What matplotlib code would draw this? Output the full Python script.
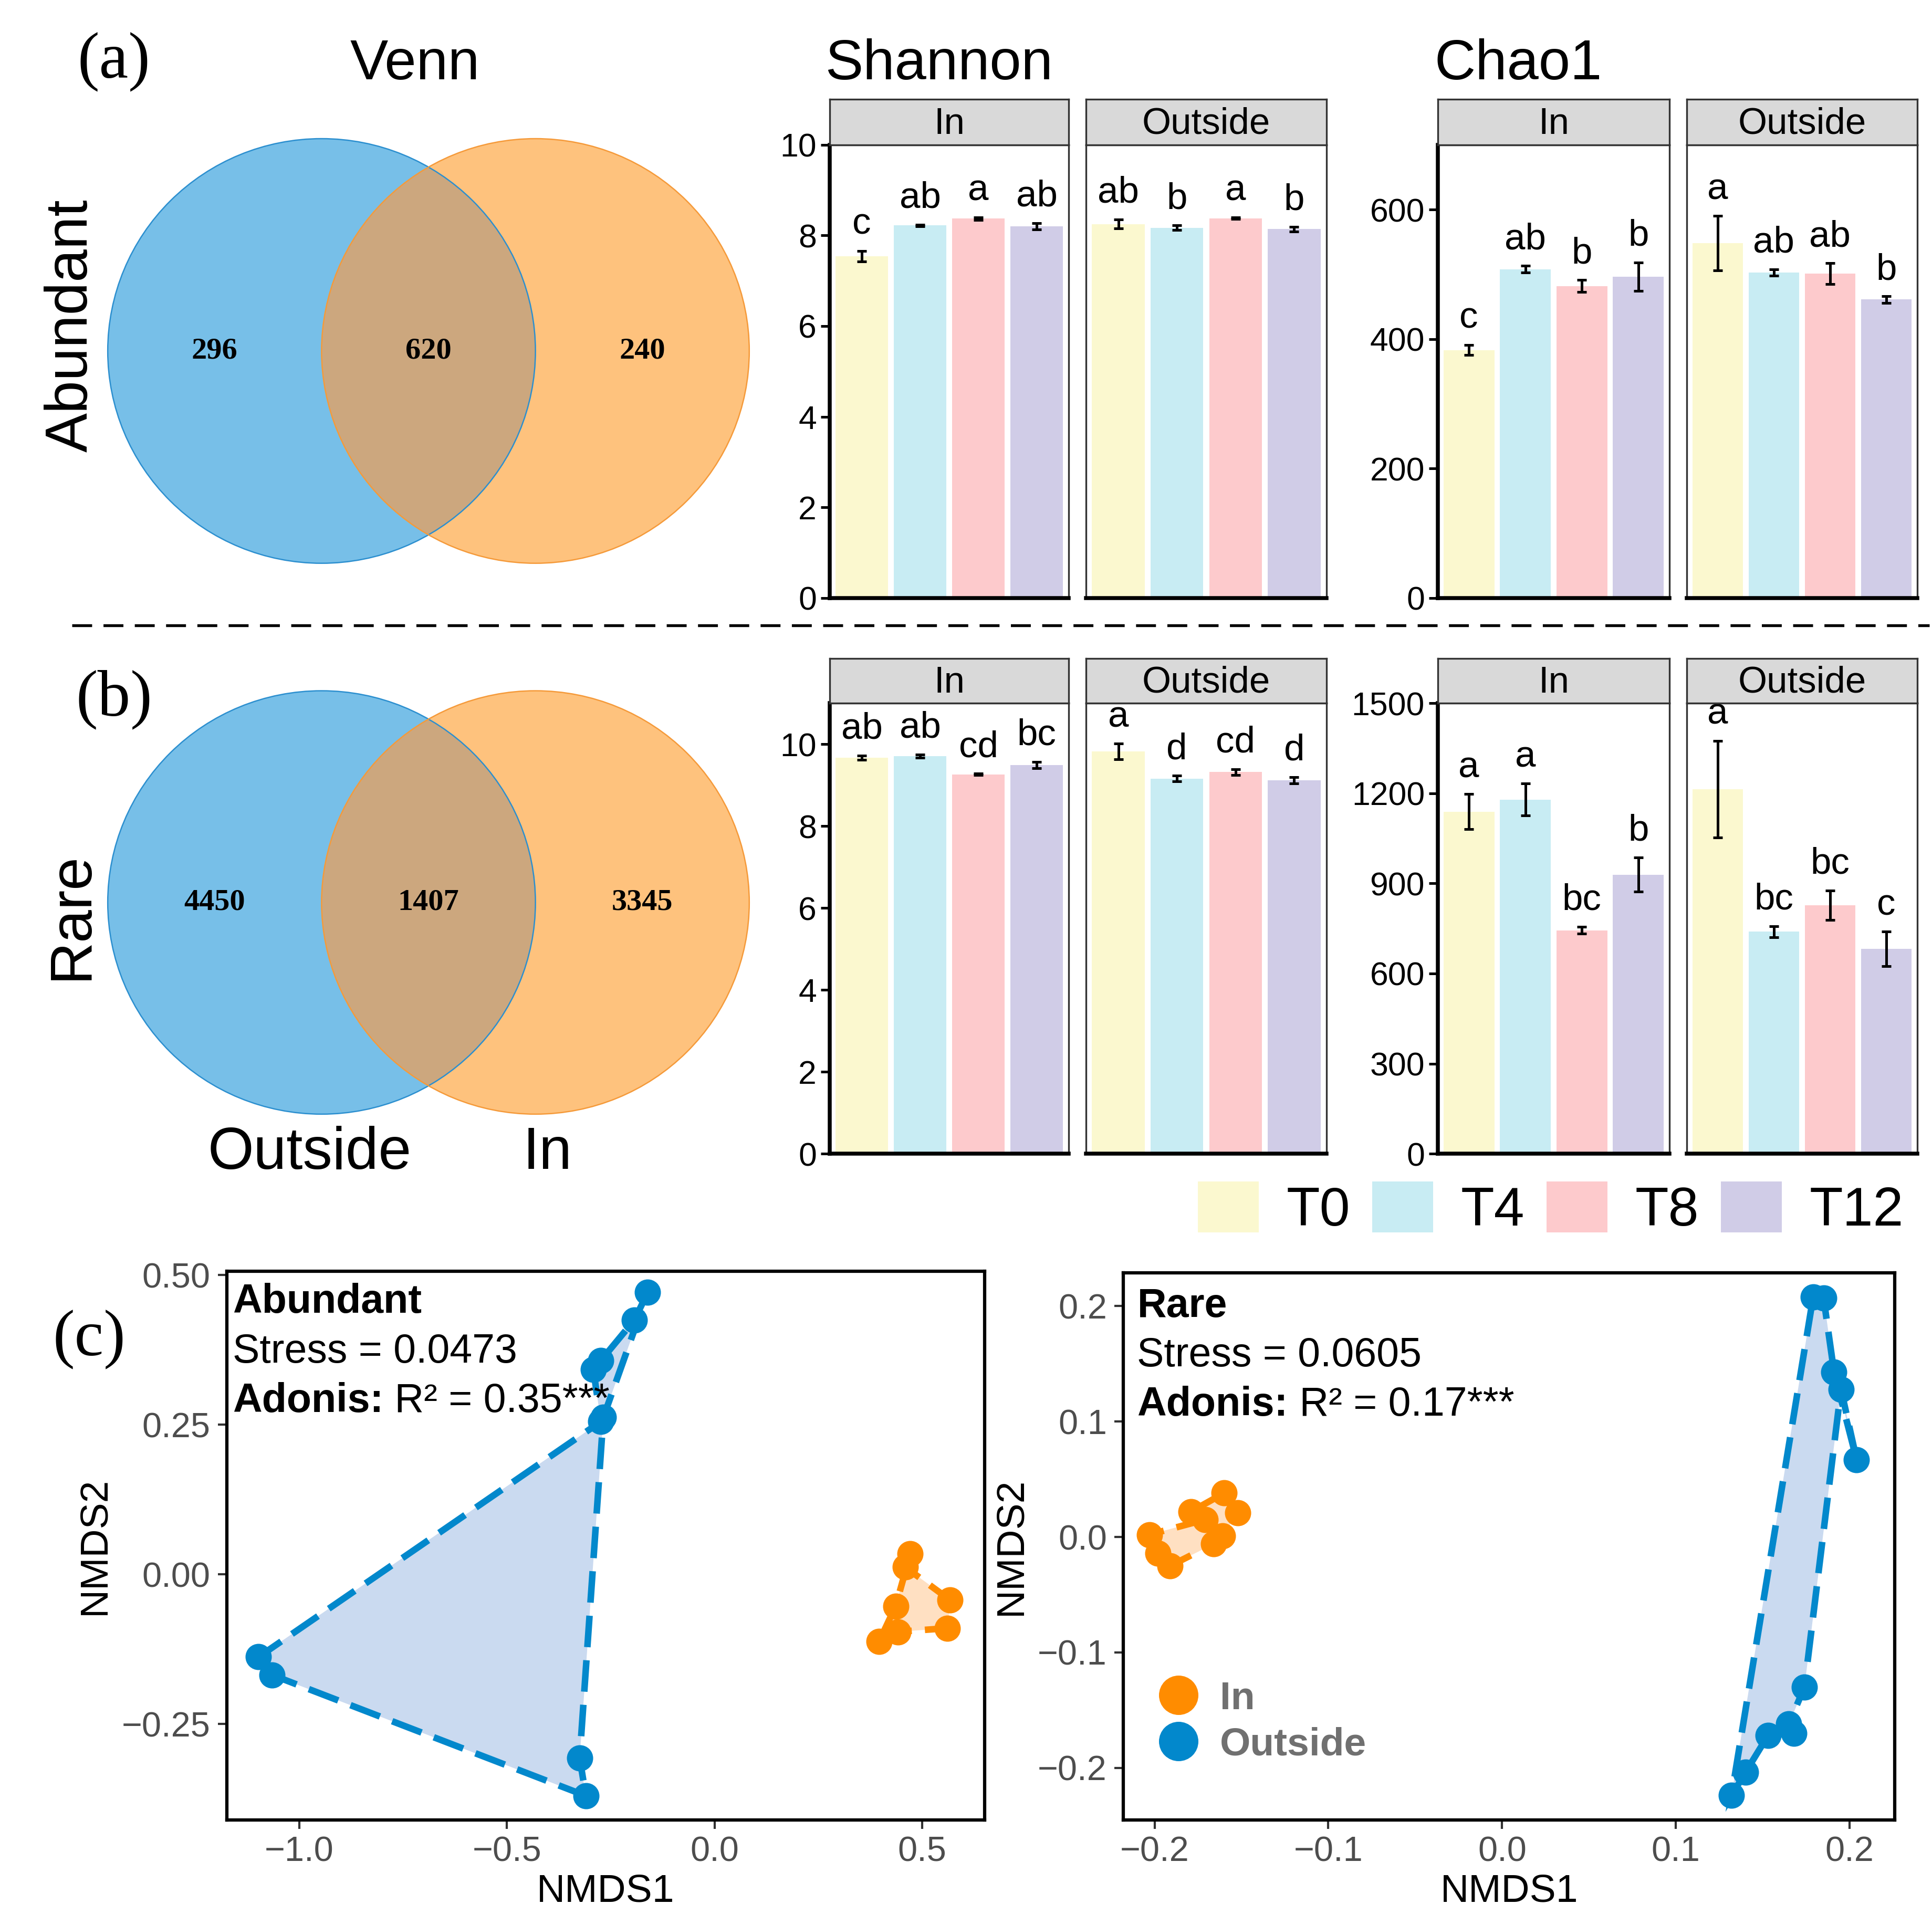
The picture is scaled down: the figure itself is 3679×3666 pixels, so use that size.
import numpy as np
import matplotlib.pyplot as plt
from matplotlib.patches import Circle, Patch, Polygon
from matplotlib.lines import Line2D
from matplotlib.ticker import FuncFormatter

plt.rcParams['font.family'] = ['Liberation Sans', 'DejaVu Sans']

#==============================================================================
# donnees
#==============================================================================

temps = ['T0', 'T4', 'T8', 'T12']
couleurs_temps = ['#FBF8CF', '#C8ECF3', '#FDCACC', '#D0CCE7']

# Venn : Outside seul, commun, In seul
venn_abondant = [296, 620, 240]
venn_rare = [4450, 1407, 3345]

# Shannon / Chao1 - abondant
shannon_ab_in = [7.54, 8.22, 8.37, 8.20]
shannon_ab_in_se = [0.12, 0.02, 0.03, 0.07]
shannon_ab_in_lettres = ['c', 'ab', 'a', 'ab']
shannon_ab_out = [8.25, 8.17, 8.38, 8.14]
shannon_ab_out_se = [0.10, 0.05, 0.02, 0.05]
shannon_ab_out_lettres = ['ab', 'b', 'a', 'b']

chao_ab_in = [383, 508, 482, 496]
chao_ab_in_se = [8, 5, 9, 22]
chao_ab_in_lettres = ['c', 'ab', 'b', 'b']
chao_ab_out = [548, 503, 501, 461]
chao_ab_out_se = [42, 5, 16, 5]
chao_ab_out_lettres = ['a', 'ab', 'ab', 'b']

# Shannon / Chao1 - rare
shannon_ra_in = [9.67, 9.71, 9.26, 9.49]
shannon_ra_in_se = [0.05, 0.04, 0.02, 0.08]
shannon_ra_in_lettres = ['ab', 'ab', 'cd', 'bc']
shannon_ra_out = [9.82, 9.16, 9.32, 9.12]
shannon_ra_out_se = [0.19, 0.07, 0.07, 0.08]
shannon_ra_out_lettres = ['a', 'd', 'cd', 'd']

chao_ra_in = [1139, 1179, 744, 929]
chao_ra_in_se = [58, 53, 12, 57]
chao_ra_in_lettres = ['a', 'a', 'bc', 'b']
chao_ra_out = [1214, 739, 827, 682]
chao_ra_out_se = [161, 18, 49, 57]
chao_ra_out_lettres = ['a', 'bc', 'bc', 'c']

# NMDS (ordre des points = ordre du polygone)
nmds_ab_in_x = [0.471, 0.459, 0.567, 0.561, 0.442, 0.396, 0.436]
nmds_ab_in_y = [0.034, 0.012, -0.043, -0.090, -0.096, -0.112, -0.053]
nmds_ab_out_x = [-0.161, -0.193, -0.274, -0.292, -0.274, -1.098, -1.066, -0.310, -0.325, -0.268]
nmds_ab_out_y = [0.471, 0.425, 0.357, 0.342, 0.255, -0.138, -0.168, -0.370, -0.307, 0.262]

nmds_ra_in_x = [-0.160, -0.152, -0.161, -0.166, -0.191, -0.198, -0.203, -0.171, -0.179]
nmds_ra_in_y = [0.038, 0.021, 0.001, -0.006, -0.025, -0.014, 0.002, 0.015, 0.022]
nmds_ra_out_x = [0.179, 0.185, 0.191, 0.204, 0.195, 0.174, 0.165, 0.168, 0.153, 0.140, 0.132]
nmds_ra_out_y = [0.208, 0.207, 0.143, 0.067, 0.128, -0.130, -0.162, -0.170, -0.172, -0.204, -0.224]

#==============================================================================
# mise en page
#==============================================================================

W, H = 1560.0, 1555.0


def boite(x0, y0, x1, y1):
    return [x0 / W, 1 - y1 / H, (x1 - x0) / W, (y1 - y0) / H]


fig = plt.figure(figsize=(3679 / 300, 3666 / 300), dpi=300)

bleu_pt = '#0288CC'
orange_pt = '#FF8C00'


def venn(pos, valeurs):
    ax = fig.add_axes(pos)
    c_out = Circle((-0.5, 0), 1, fc='#77BFE8', ec='none')
    c_in = Circle((0.5, 0), 1, fc='#FEC27D', ec='none')
    inter = Circle((0.5, 0), 1, fc='#CCA77E', ec='none')
    ax.add_patch(c_out)
    ax.add_patch(c_in)
    ax.add_patch(inter)
    inter.set_clip_path(c_out)
    ax.add_patch(Circle((-0.5, 0), 1, fill=False, ec='#2C8FCF', lw=0.6, clip_on=False))
    ax.add_patch(Circle((0.5, 0), 1, fill=False, ec='#F59A3A', lw=0.6, clip_on=False))
    for xx, v in zip([-1, 0, 1], valeurs):
        ax.text(xx, 0, str(v), family='Liberation Serif', weight='bold',
                fontsize=14, ha='center', va='center')
    ax.set_xlim(-1.5, 1.5)
    ax.set_ylim(-1, 1)
    ax.axis('off')


def facette(pos, pos_strip, moy, se, lettres, titre, ytop, yticks, gauche):
    ax = fig.add_axes(pos)
    x = np.arange(1, 5)
    ax.bar(x, moy, width=0.9, color=couleurs_temps, edgecolor='none')
    ax.errorbar(x, moy, yerr=se, fmt='none', ecolor='black', elinewidth=1.2,
                capsize=2.2, capthick=1.2)
    for xi, m, e, l in zip(x, moy, se, lettres):
        ax.text(xi, m + e + 0.02 * ytop, l, ha='center', va='bottom', fontsize=17)
    ax.set_xlim(0.45, 4.55)
    ax.set_ylim(0, ytop)
    ax.set_yticks(yticks)
    ax.tick_params(axis='x', length=0, labelbottom=False)
    for s in ['top', 'right']:
        ax.spines[s].set_linewidth(0.8)
        ax.spines[s].set_color('#333333')
    ax.spines['bottom'].set_linewidth(1.8)
    ax.spines['bottom'].set_color('black')
    if gauche:
        ax.spines['left'].set_linewidth(1.8)
        ax.spines['left'].set_color('black')
        ax.tick_params(axis='y', length=4, width=1.2, labelsize=15, pad=2)
    else:
        ax.spines['left'].set_linewidth(0.8)
        ax.spines['left'].set_color('#333333')
        ax.tick_params(axis='y', left=False, labelleft=False)
    st = fig.add_axes(pos_strip)
    st.set_facecolor('#D9D9D9')
    st.set_xticks([])
    st.set_yticks([])
    for s in st.spines.values():
        s.set_linewidth(0.8)
        s.set_color('#333333')
    st.text(0.5, 0.45, titre, ha='center', va='center', fontsize=17, transform=st.transAxes)
    return ax


def moins(dec):
    def f(v, p):
        if abs(v) < 1e-9:
            v = 0.0
        return f'{v:.{dec}f}'.replace('-', '\u2212')
    return FuncFormatter(f)


def nmds(pos, groupes, xlim, ylim, xticks, yticks, dx, dy, titre, stress, r2, txt_x, txt_y):
    ax = fig.add_axes(pos)
    for gx, gy, c, fond in groupes:
        pts = np.column_stack([gx, gy])
        ax.add_patch(Polygon(pts, closed=True, fc=fond, ec='none', zorder=1))
        ax.add_patch(Polygon(pts, closed=True, fill=False, ec=c, lw=3.0,
                             ls=(0, (4.8, 2.0)), zorder=2))
        ax.plot(gx, gy, 'o', ms=11, color=c, mec=c, zorder=3)
    ax.set_xlim(xlim)
    ax.set_ylim(ylim)
    ax.set_xticks(xticks)
    ax.set_yticks(yticks)
    ax.xaxis.set_major_formatter(moins(dx))
    ax.yaxis.set_major_formatter(moins(dy))
    ax.tick_params(labelsize=16, labelcolor='#4D4D4D', color='#333333', length=4, width=1)
    for s in ax.spines.values():
        s.set_linewidth(1.5)
    ax.set_xlabel('NMDS1', fontsize=18, labelpad=2)
    ax.set_ylabel('NMDS2', fontsize=18, labelpad=4)
    ax.text(txt_x, txt_y[0], titre, weight='bold', fontsize=18.5, va='center', transform=ax.transAxes)
    ax.text(txt_x, txt_y[1], 'Stress = ' + stress, fontsize=18.5, va='center', transform=ax.transAxes)
    t = ax.text(txt_x, txt_y[2], 'Adonis:', weight='bold', fontsize=18.5, va='center', transform=ax.transAxes)
    ax.annotate(' R\u00b2 = ' + r2 + '***', xy=(1, 0), xycoords=t, va='bottom', ha='left', fontsize=18.5)
    return ax


# Venn
venn(boite(87, 112, 605, 455), venn_abondant)
venn(boite(87, 558, 605, 900), venn_rare)

# Barres
facette(boite(670, 117, 863, 483), boite(670, 80, 863, 117), shannon_ab_in, shannon_ab_in_se,
        shannon_ab_in_lettres, 'In', 10, [0, 2, 4, 6, 8, 10], True)
facette(boite(877, 117, 1071, 483), boite(877, 80, 1071, 117), shannon_ab_out, shannon_ab_out_se,
        shannon_ab_out_lettres, 'Outside', 10, [0, 2, 4, 6, 8, 10], False)
facette(boite(1161, 117, 1348, 483), boite(1161, 80, 1348, 117), chao_ab_in, chao_ab_in_se,
        chao_ab_in_lettres, 'In', 700, [0, 200, 400, 600], True)
facette(boite(1362, 117, 1548, 483), boite(1362, 80, 1548, 117), chao_ab_out, chao_ab_out_se,
        chao_ab_out_lettres, 'Outside', 700, [0, 200, 400, 600], False)

facette(boite(670, 568, 863, 932), boite(670, 532, 863, 568), shannon_ra_in, shannon_ra_in_se,
        shannon_ra_in_lettres, 'In', 11, [0, 2, 4, 6, 8, 10], True)
facette(boite(877, 568, 1071, 932), boite(877, 532, 1071, 568), shannon_ra_out, shannon_ra_out_se,
        shannon_ra_out_lettres, 'Outside', 11, [0, 2, 4, 6, 8, 10], False)
facette(boite(1161, 568, 1348, 932), boite(1161, 532, 1348, 568), chao_ra_in, chao_ra_in_se,
        chao_ra_in_lettres, 'In', 1500, [0, 300, 600, 900, 1200, 1500], True)
facette(boite(1362, 568, 1548, 932), boite(1362, 532, 1548, 568), chao_ra_out, chao_ra_out_se,
        chao_ra_out_lettres, 'Outside', 1500, [0, 300, 600, 900, 1200, 1500], False)

# NMDS
nmds(boite(183, 1027, 795, 1470),
     [(nmds_ab_out_x, nmds_ab_out_y, bleu_pt, '#CADAF0'),
      (nmds_ab_in_x, nmds_ab_in_y, orange_pt, '#FFE0C2')],
     (-1.175, 0.65), (-0.41, 0.506), [-1.0, -0.5, 0.0, 0.5], [-0.25, 0.0, 0.25, 0.5], 1, 2,
     'Abundant', '0.0473', '0.35', 0.008, (0.944, 0.853, 0.763))
ax_r = nmds(boite(907, 1028, 1530, 1470),
            [(nmds_ra_out_x, nmds_ra_out_y, bleu_pt, '#CADAF0'),
             (nmds_ra_in_x, nmds_ra_in_y, orange_pt, '#FFE0C2')],
            (-0.218, 0.226), (-0.245, 0.229), [-0.2, -0.1, 0.0, 0.1, 0.2], [-0.2, -0.1, 0.0, 0.1, 0.2], 1, 1,
            'Rare', '0.0605', '0.17', 0.018, (0.939, 0.848, 0.758))
ax_r.legend(handles=[Line2D([], [], marker='o', ls='none', color=orange_pt, ms=17),
                     Line2D([], [], marker='o', ls='none', color=bleu_pt, ms=17)],
            labels=['In', 'Outside'], loc='lower left', bbox_to_anchor=(0.0, 0.075),
            frameon=False, prop={'weight': 'bold', 'size': 18}, labelcolor='#707070',
            handletextpad=0.05, labelspacing=0.25, borderaxespad=0)

# legende des temps
fig.legend(handles=[Patch(facecolor=c, edgecolor='none') for c in couleurs_temps], labels=temps,
           loc='center', bbox_to_anchor=(1252 / W, 1 - 977 / H), ncol=4, frameon=False,
           fontsize=25, handlelength=1.12, handleheight=1.05, handletextpad=0.5, columnspacing=0.4)

# textes
fig.text(92 / W, 1 - 50 / H, '(a)', family='Liberation Serif', fontsize=30, ha='center', va='center')
fig.text(92 / W, 1 - 565 / H, '(b)', family='Liberation Serif', fontsize=30, ha='center', va='center')
fig.text(72 / W, 1 - 1082 / H, '(c)', family='Liberation Serif', fontsize=30, ha='center', va='center')
fig.text(335 / W, 1 - 52 / H, 'Venn', fontsize=26, ha='center', va='center')
fig.text(758 / W, 1 - 52 / H, 'Shannon', fontsize=26, ha='center', va='center')
fig.text(1226 / W, 1 - 52 / H, 'Chao1', fontsize=26, ha='center', va='center')
fig.text(58 / W, 1 - 263 / H, 'Abundant', fontsize=27, rotation=90, ha='center', va='center')
fig.text(58 / W, 1 - 740 / H, 'Rare', fontsize=27, rotation=90, ha='center', va='center')
fig.text(250 / W, 1 - 932 / H, 'Outside', fontsize=27, ha='center', va='center')
fig.text(442 / W, 1 - 932 / H, 'In', fontsize=27, ha='center', va='center')

fig.add_artist(Line2D([58 / W, 1558 / W], [1 - 505 / H, 1 - 505 / H], transform=fig.transFigure,
                      ls=(0, (7, 4)), lw=1.3, color='black'))

plt.savefig('out.png', dpi=300)
